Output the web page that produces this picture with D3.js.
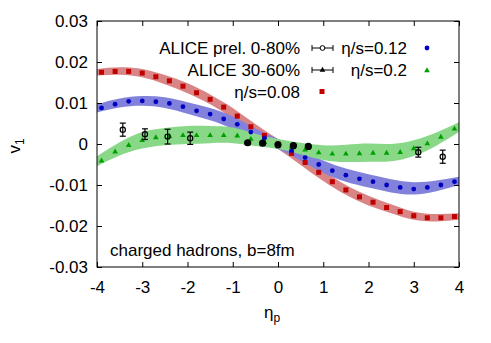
<!DOCTYPE html>
<html>
<head>
<meta charset="utf-8">
<script src="https://cdn.jsdelivr.net/npm/d3@7/dist/d3.min.js"></script>
<style>
  body { margin: 0; background: #fff; }
  text { font-family: "Liberation Sans", Arial, sans-serif; }
</style>
</head>
<body>
<div class="chart"></div>
<script>
// model points (hydro, charged hadrons b=8fm)
var etaModel = [-3.9, -3.6, -3.3, -3.0, -2.7, -2.4, -2.1, -1.8, -1.5, -1.2, -0.9, -0.6, -0.3, 0.0,
                0.3, 0.6, 0.9, 1.2, 1.5, 1.8, 2.1, 2.4, 2.7, 3.0, 3.3, 3.6, 3.9];
var v1Visc008 = [0.0175, 0.0177, 0.0177, 0.0173, 0.0164, 0.0154, 0.0141, 0.0125, 0.0109, 0.0090, 0.0068, 0.0042, 0.0021, 0.0000,
                 -0.0023, -0.0045, -0.0069, -0.0092, -0.0112, -0.0129, -0.0142, -0.0155, -0.0165, -0.0175, -0.0180, -0.0180, -0.0177];
var v1Visc012 = [0.0088, 0.0097, 0.0104, 0.0105, 0.0103, 0.0099, 0.0091, 0.0081, 0.0073, 0.0061, 0.0048, 0.0029, 0.0014, 0.0000,
                 -0.0016, -0.0033, -0.0050, -0.0065, -0.0076, -0.0085, -0.0092, -0.0100, -0.0106, -0.0110, -0.0106, -0.0100, -0.0092];
var v1Visc02  = [-0.0040, -0.0018, -0.0002, 0.0010, 0.0017, 0.0020, 0.0022, 0.0022, 0.0022, 0.0022, 0.0021, 0.0013, 0.0005, 0.0000,
                 -0.0006, -0.0013, -0.0020, -0.0023, -0.0023, -0.0022, -0.0021, -0.0021, -0.0019, -0.0010, 0.0002, 0.0018, 0.0038];

// shaded bands: centre and half width
var bandEta = [-4, -3.5, -3, -2.5, -2, -1.5, -1, -0.5, 0, 0.5, 1, 1.5, 2, 2.5, 3, 3.5, 4];
var band008Mid  = [0.0175, 0.0178, 0.0173, 0.0157, 0.0136, 0.0109, 0.0075, 0.0036, 0.0, -0.0038, -0.0077, -0.0112, -0.0138, -0.0158, -0.0175, -0.0180, -0.0177];
var band008Half = [0.0008, 0.0009, 0.0010, 0.0011, 0.0012, 0.0012, 0.0013, 0.0013, 0.0012, 0.0013, 0.0013, 0.0012, 0.0012, 0.0011, 0.0010, 0.0009, 0.0008];
var band012Mid  = [0.0087, 0.0100, 0.0105, 0.0101, 0.0088, 0.0073, 0.0052, 0.0024, 0.0, -0.0027, -0.0055, -0.0076, -0.0090, -0.0102, -0.0108, -0.0102, -0.0090];
var band012Half = [0.0010, 0.0011, 0.0012, 0.0013, 0.0014, 0.0015, 0.0015, 0.0014, 0.0012, 0.0013, 0.0015, 0.0016, 0.0016, 0.0016, 0.0015, 0.0013, 0.0010];
var band02Mid   = [-0.0042, -0.0012, 0.0009, 0.0018, 0.0022, 0.0023, 0.0021, 0.0010, 0.0, -0.0011, -0.0021, -0.0023, -0.0021, -0.0021, -0.0010, 0.0012, 0.0041];
var band02Half  = [0.0012, 0.0016, 0.0020, 0.0021, 0.0022, 0.0021, 0.0019, 0.0015, 0.0012, 0.0014, 0.0018, 0.0021, 0.0022, 0.0021, 0.0019, 0.0016, 0.0012];

// ALICE data
var alice080Eta = [-3.43, -2.94, -2.44, -1.94, -0.67, -0.34, 0.0, 0.34, 0.67, 3.10, 3.64];
var alice080V1  = [0.0035, 0.0024, 0.0018, 0.0014, 0.0003, 0.0002, -0.0002, -0.0004, -0.0006, -0.0020, -0.0031];
var alice080Err = [0.0016, 0.0013, 0.0018, 0.0015, 0.0002, 0.0002, 0.0002, 0.0002, 0.0002, 0.0012, 0.0016];
var alice3060Eta = [-0.67, -0.34, 0.0, 0.34, 0.67];
var alice3060V1  = [0.0002, 0.0001, -0.0001, -0.0003, -0.0005];
var alice3060Err = [0.0002, 0.0002, 0.0002, 0.0002, 0.0002];

var xTicks = [-4, -3, -2, -1, 0, 1, 2, 3, 4];
var yTicks = [-0.03, -0.02, -0.01, 0, 0.01, 0.02, 0.03];

var width = 491,
    height = 343;

var svg = d3.select(".chart").append("svg")
    .attr("width", width)
    .attr("height", height);

var x = d3.scaleLinear().domain([-4, 4]).range([97, 459]);
var y = d3.scaleLinear().domain([-0.03, 0.03]).range([267, 21]);

// bands
function band(mid, half, fill) {
  var area = d3.area()
      .x(function(d, i){ return x(bandEta[i]); })
      .y0(function(d, i){ return y(mid[i] - half[i]); })
      .y1(function(d, i){ return y(mid[i] + half[i]); })
      .curve(d3.curveNatural);
  svg.append("path")
      .datum(mid)
      .attr("d", area)
      .attr("fill", fill);
}
band(band008Mid, band008Half, "#d98585");
band(band012Mid, band012Half, "#8282dc");
band(band02Mid, band02Half, "#88d888");

// axes
svg.append("g")
    .attr("transform", "translate(0,267)")
    .call(d3.axisBottom(x).tickValues(xTicks).tickSize(-5).tickPadding(14)
      .tickFormat(function(d){ return d; }));
svg.append("g")
    .attr("transform", "translate(0,21)")
    .call(d3.axisTop(x).tickValues(xTicks).tickSize(-5).tickFormat(""));
svg.append("g")
    .attr("transform", "translate(97,0)")
    .call(d3.axisLeft(y).tickValues(yTicks).tickSize(-5).tickPadding(9)
      .tickFormat(function(d){ return d === 0 ? "0" : d.toFixed(2); }));
svg.append("g")
    .attr("transform", "translate(459,0)")
    .call(d3.axisRight(y).tickValues(yTicks).tickSize(-5).tickFormat(""));

svg.selectAll(".domain").remove();
svg.selectAll(".tick line").attr("stroke", "#000");
svg.selectAll(".tick text")
    .attr("fill", "#000")
    .style("font-size", "17px")
    .style("font-family", "'Liberation Sans', Arial, sans-serif");

svg.append("rect")
    .attr("x", 97).attr("y", 21)
    .attr("width", 362).attr("height", 246)
    .attr("fill", "none")
    .attr("stroke", "#000")
    .attr("stroke-width", 1);

// model points
var tri = d3.symbol().type(d3.symbolTriangle).size(14);

svg.append("g").selectAll("rect")
    .data(v1Visc008).enter().append("rect")
    .attr("x", function(d, i){ return x(etaModel[i]) - 2.5; })
    .attr("y", function(d){ return y(d) - 2.5; })
    .attr("width", 5).attr("height", 5)
    .attr("fill", "#c00000");

svg.append("g").selectAll("circle")
    .data(v1Visc012).enter().append("circle")
    .attr("cx", function(d, i){ return x(etaModel[i]); })
    .attr("cy", function(d){ return y(d); })
    .attr("r", 2.4)
    .attr("fill", "#0000c0");

svg.append("g").selectAll("path")
    .data(v1Visc02).enter().append("path")
    .attr("d", tri)
    .attr("transform", function(d, i){ return "translate(" + x(etaModel[i]) + "," + (y(d) + 0.5) + ")"; })
    .attr("fill", "#00a000");

// ALICE points with error bars
function errBars(etas, vals, errs) {
  var g = svg.append("g").attr("stroke", "#000").attr("stroke-width", 1.2);
  etas.forEach(function(e, i){
    var cx = x(e), lo = y(vals[i] - errs[i]), hi = y(vals[i] + errs[i]);
    g.append("line").attr("x1", cx).attr("x2", cx).attr("y1", lo).attr("y2", hi);
    g.append("line").attr("x1", cx - 3).attr("x2", cx + 3).attr("y1", lo).attr("y2", lo);
    g.append("line").attr("x1", cx - 3).attr("x2", cx + 3).attr("y1", hi).attr("y2", hi);
  });
  return g;
}
errBars(alice3060Eta, alice3060V1, alice3060Err);
svg.append("g").selectAll("path")
    .data(alice3060V1).enter().append("path")
    .attr("d", tri)
    .attr("transform", function(d, i){ return "translate(" + x(alice3060Eta[i]) + "," + y(d) + ")"; })
    .attr("fill", "#000");

errBars(alice080Eta, alice080V1, alice080Err);
svg.append("g").selectAll("circle")
    .data(alice080V1).enter().append("circle")
    .attr("cx", function(d, i){ return x(alice080Eta[i]); })
    .attr("cy", function(d){ return y(d); })
    .attr("r", 2.6)
    .attr("fill", "none")
    .attr("stroke", "#000")
    .attr("stroke-width", function(d, i){ return Math.abs(alice080Eta[i]) < 1 ? 2 : 1.2; });

// axis titles
var yl = svg.append("text")
    .attr("transform", "translate(20,146) rotate(-90)")
    .attr("text-anchor", "middle")
    .style("font-size", "17px");
yl.append("tspan").text("v");
yl.append("tspan").attr("dy", 4).style("font-size", "12px").text("1");

var xl = svg.append("text")
    .attr("x", 272).attr("y", 318)
    .attr("text-anchor", "middle")
    .style("font-size", "17px");
xl.append("tspan").text("η");
xl.append("tspan").attr("dy", 4).style("font-size", "12px").text("p");

svg.append("text")
    .attr("x", 110).attr("y", 256)
    .style("font-size", "17px")
    .text("charged hadrons, b=8fm");

// legend
var leg = svg.append("g").style("font-size", "17px");
leg.append("text").attr("x", 300).attr("y", 54).attr("text-anchor", "end").text("ALICE prel. 0-80%");
leg.append("text").attr("x", 300).attr("y", 76).attr("text-anchor", "end").text("ALICE 30-60%");
leg.append("text").attr("x", 300).attr("y", 98).attr("text-anchor", "end").text("η/s=0.08");
leg.append("text").attr("x", 407).attr("y", 54).attr("text-anchor", "end").text("η/s=0.12");
leg.append("text").attr("x", 407).attr("y", 76).attr("text-anchor", "end").text("η/s=0.2");

[48, 70].forEach(function(ly){
  leg.append("line").attr("x1", 312).attr("x2", 333).attr("y1", ly).attr("y2", ly).attr("stroke", "#000");
  leg.append("line").attr("x1", 312).attr("x2", 312).attr("y1", ly - 3).attr("y2", ly + 3).attr("stroke", "#000");
  leg.append("line").attr("x1", 333).attr("x2", 333).attr("y1", ly - 3).attr("y2", ly + 3).attr("stroke", "#000");
});
leg.append("circle").attr("cx", 322.5).attr("cy", 48).attr("r", 2.4)
    .attr("fill", "#fff").attr("stroke", "#000");
leg.append("path").attr("d", tri).attr("transform", "translate(322.5,70)").attr("fill", "#000");
leg.append("rect").attr("x", 319.5).attr("y", 89).attr("width", 5).attr("height", 5).attr("fill", "#c00000");
leg.append("circle").attr("cx", 427).attr("cy", 48).attr("r", 2.4).attr("fill", "#0000c0");
leg.append("path").attr("d", tri).attr("transform", "translate(427,70.5)").attr("fill", "#00a000");
</script>
</body>
</html>
